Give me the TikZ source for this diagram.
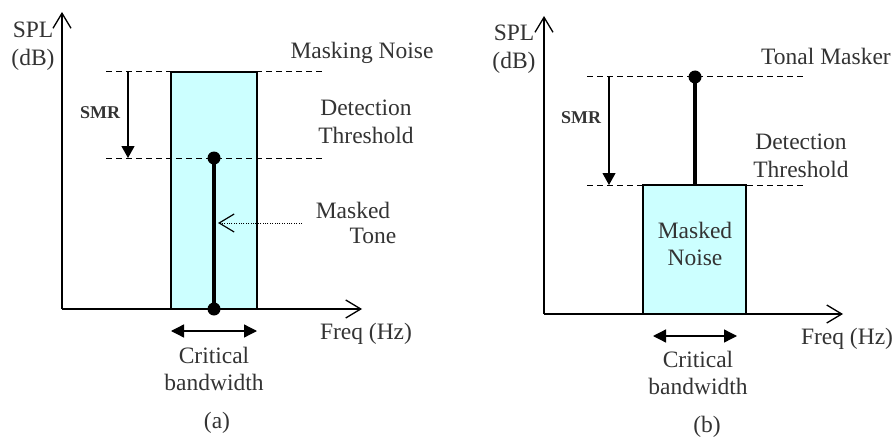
\documentclass[tikz,border=0pt]{standalone}
\usepackage{fontspec}
\setmainfont{Liberation Serif}
\usetikzlibrary{arrows.meta}
\definecolor{txt}{RGB}{51,51,51}
\definecolor{band}{RGB}{204,255,255}
\tikzset{
  lbl/.style={inner sep=0pt, text=txt, font=\fontsize{23.5}{27.5}\selectfont, align=center},
  smrlbl/.style={inner sep=0pt, text=txt, font=\fontsize{18}{20}\selectfont\bfseries},
  axis/.style={line width=1.3pt, -{Straight Barb[length=15pt,width=18pt,line width=1.3pt]}},
  level/.style={line width=1pt, dash pattern=on 6pt off 4pt},
  smrarrow/.style={line width=1.1pt, -{Triangle[length=12pt,width=13pt]}},
  bwarrow/.style={line width=1.3pt, {Triangle[length=13pt,width=13pt]}-{Triangle[length=13pt,width=13pt]}},
  tone/.style={line width=3.5pt},
  dotmark/.style={circle, fill=black, inner sep=0pt, minimum size=13pt},
  bandbox/.style={fill=band, draw=black, line width=1.3pt},
  pointer/.style={line width=0.9pt, dash pattern=on 1pt off 1.4pt, -{Straight Barb[length=15pt,width=18pt,line width=1.2pt]}}
}
\begin{document}
\begin{tikzpicture}[x=1pt,y=1pt]
\useasboundingbox (0,0) rectangle (896,440);
% ---------------- panel (a) ----------------
\coordinate (oa) at (62,131);
\coordinate (ya) at (62,428);
\coordinate (xa) at (362,131);
\coordinate (ra1) at (171,131);
\coordinate (ra2) at (257,368);
\coordinate (dat1) at (106,368);
\coordinate (dat2) at (323,368);
\coordinate (dab1) at (106,282);
\coordinate (dab2) at (323,282);
\coordinate (sa1) at (128,368);
\coordinate (sa2) at (128,282);
\coordinate (pa1) at (302,217);
\coordinate (pa2) at (218,217);
\coordinate (ba1) at (171,109);
\coordinate (ba2) at (257,109);

\fill[band] (ra1) rectangle (ra2);
\draw[level] (dat1) -- (dat2);
\draw[level] (dab1) -- (dab2);
\draw[line width=1.3pt] (ra1) rectangle (ra2);
\draw[axis] (oa) -- (ya);
\draw[axis] (oa) -- (xa);
\node[dotmark] (ta) at (214,282) {};
\node[dotmark] (tb) at (214,131) {};
\draw[tone] (ta.center) -- (tb.center);
\draw[smrarrow] (sa1) -- (sa2);
\draw[pointer] (pa1) -- (pa2);
\draw[bwarrow] (ba1) -- (ba2);

\node[smrlbl] (smra) at (100,327) {SMR};
\node[lbl] (spla) at (33,394) {SPL\\(dB)};
\node[lbl] (mna) at (362,387) {Masking Noise};
\node[lbl] (dta) at (366,318) {Detection\\Threshold};
\node[lbl] (mka) at (353,230) {Masked};
\node[lbl] (tna) at (373,204) {Tone};
\node[lbl] (fqa) at (366,106) {Freq (Hz)};
\node[lbl] (cba) at (214,71) {Critical\\bandwidth};
\node[lbl] (capa) at (217,17) {(a)};

% ---------------- panel (b) ----------------
\coordinate (ob) at (544,126);
\coordinate (yb) at (544,424);
\coordinate (xb) at (843,126);
\coordinate (rb1) at (643,126);
\coordinate (rb2) at (746,255);
\coordinate (dbt1) at (587,363);
\coordinate (dbt2) at (804,363);
\coordinate (dbb1) at (587,255);
\coordinate (dbb2) at (804,255);
\coordinate (sb1) at (609,363);
\coordinate (sb2) at (609,255);
\coordinate (tbb) at (695,255);
\coordinate (bb1) at (653,104);
\coordinate (bb2) at (737,104);

\draw[level] (dbt1) -- (dbt2);
\draw[level] (dbb1) -- (dbb2);
\draw[bandbox] (rb1) rectangle (rb2);
\draw[axis] (ob) -- (yb);
\draw[axis] (ob) -- (xb);
\node[dotmark] (tmb) at (695,363) {};
\draw[tone] (tmb.center) -- (tbb);
\draw[smrarrow] (sb1) -- (sb2);
\draw[bwarrow] (bb1) -- (bb2);

\node[smrlbl] (smrb) at (581,322) {SMR};
\node[lbl] (splb) at (514,391) {SPL\\(dB)};
\node[lbl] (tmlb) at (826,384) {Tonal Masker};
\node[lbl] (dtb) at (801,284) {Detection\\Threshold};
\node[lbl] (mnb) at (695,196) {Masked\\Noise};
\node[lbl] (fqb) at (847,101) {Freq (Hz)};
\node[lbl] (cbb) at (698,67) {Critical\\bandwidth};
\node[lbl] (capb) at (707,13) {(b)};
\end{tikzpicture}
\end{document}
